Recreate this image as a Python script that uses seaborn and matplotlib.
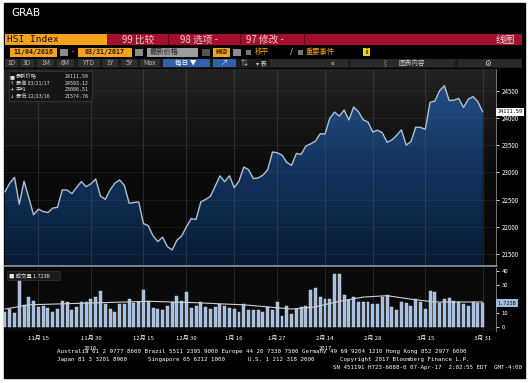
import numpy as np
import pandas as pd
import matplotlib.pyplot as plt
import matplotlib.transforms as mtransforms
from matplotlib.colors import LinearSegmentedColormap
from matplotlib.patches import Rectangle
import seaborn as sns

# --- data (HSI Index, daily, 11/04/2016 - 03/31/2017) ---
price = [22642, 22801, 22909, 22415, 22839, 22531, 22222, 22324, 22281, 22262,
         22344, 22357, 22678, 22676, 22609, 22723, 22830, 22737, 22790, 22878,
         22565, 22505, 22676, 22800, 22861, 22761, 22433, 22447, 22456, 22059,
         22020, 21833, 21729, 21809, 21636, 21575, 21754, 21831, 22001, 22150,
         22134, 22456, 22503, 22558, 22745, 22935, 22829, 22937, 22718, 22840,
         23098, 23050, 22885, 22898, 22949, 23049, 23374, 23361, 23318, 23185,
         23129, 23348, 23331, 23485, 23525, 23575, 23711, 23704, 23994, 24108,
         24034, 24146, 23963, 24202, 24115, 23966, 23926, 23741, 23776, 23728,
         23553, 23596, 23681, 23782, 23501, 23568, 23830, 23827, 23792, 24288,
         24310, 24502, 24593, 24321, 24327, 24358, 24193, 24345, 24392, 24301,
         24112]
volume = [10.7, 13.1, 10.2, 33.3, 16.0, 21.9, 19.0, 14.5, 15.5, 13.6,
          10.7, 13.0, 19.0, 18.0, 12.0, 14.3, 18.0, 18.0, 19.8, 21.4,
          25.5, 16.7, 13.0, 10.7, 16.7, 16.7, 20.2, 17.4, 17.9, 26.2,
          19.0, 13.6, 13.1, 12.4, 15.5, 17.9, 22.6, 19.0, 25.0, 13.6,
          15.5, 18.3, 14.3, 13.1, 14.8, 16.7, 15.0, 13.6, 13.1, 10.7,
          16.7, 12.0, 12.0, 12.0, 10.7, 14.3, 12.0, 18.3, 7.9, 15.5,
          9.5, 13.1, 14.3, 15.5, 26.2, 27.9, 21.9, 19.8, 20.2, 38.0,
          38.0, 23.1, 19.5, 21.4, 18.3, 17.9, 17.9, 16.7, 16.7, 21.4,
          23.3, 14.3, 12.6, 18.3, 17.4, 15.5, 20.2, 17.9, 13.1, 25.7,
          25.2, 17.4, 20.2, 20.7, 18.6, 17.9, 16.7, 15.5, 18.3, 17.4,
          17.2]
ma_idx = [0, 5, 10, 15, 20, 25, 30, 35, 40, 45, 50, 55, 60, 65, 70, 75, 80, 85, 90, 95, 100]
ma_vol = [13, 16, 16.5, 17, 17.5, 18, 18.5, 18, 17.5, 16.7, 16, 14.5, 13, 14.5, 18.5,
          21.5, 22.5, 20, 18, 18, 18]

tick_idx = [7, 18, 29, 38, 48, 57, 67, 77, 88, 100]
tick_labels = ['11月 15', '11月 30', '12月 15', '12月 30', '1月 16',
               '1月 27', '2月 14', '2月 28', '3月 15', '3月 31']
year_idx = [18, 67]
year_labels = ['2016', '2017']
price_ticks = [21500, 22000, 22500, 23000, 23500, 24000, 24500]
vol_ticks = [0, 10, 20, 30, 40]
vol_tick_labels = ['0', '10', '', '30', '40']  # 20 is hidden under the value box
last_price = '24111.59'
vol_text = '1.723B'
legend_rows = [('■', '最新价格', '24111.59'),
               ('↑', '最高 03/21/17', '24593.12'),
               ('+', '平均', '23086.51'),
               ('↓', '最低 12/23/16', '21574.76')]

df = pd.DataFrame({'day': np.arange(len(price)), 'price': price, 'volume': volume})

sns.set_style('dark')
plt.rcParams['font.family'] = ['Noto Sans CJK SC', 'DejaVu Sans']
CJK = ['Noto Sans CJK SC', 'DejaVu Sans']
MONO = ['DejaVu Sans Mono', 'Noto Sans CJK SC']

W, H = 530, 383
fig = plt.figure(figsize=(W / 100, H / 100), dpi=100, facecolor='white')

# black terminal background
bg = fig.add_axes([0, 0, 1, 1], zorder=0)
bg.set_xlim(0, W); bg.set_ylim(H, 0); bg.axis('off')
bg.add_patch(Rectangle((4, 3), 521, 375, color='black'))

xmin, xmax = -0.2, 102.8

# --- price panel ---
ax = fig.add_axes([4 / W, 1 - 265 / H, 492 / W, 196 / H], zorder=1)
ymin, ymax = 21298, 24900
grad = np.linspace(0, 1, 256).reshape(-1, 1)
ax.imshow(grad, extent=[xmin, xmax, ymin, ymax], origin='lower', aspect='auto',
          cmap=LinearSegmentedColormap.from_list('bgc', ['#080808', '#0c0c0c', '#222222']),
          zorder=0)
fill = ax.fill_between(df['day'], df['price'], ymin, color='none', lw=0)
im = ax.imshow(grad, extent=[xmin, xmax, ymin, ymax], origin='lower', aspect='auto',
               cmap=LinearSegmentedColormap.from_list('area', ['#081a33', '#12345e', '#24538a']),
               zorder=1)
im.set_clip_path(fill.get_paths()[0], transform=ax.transData)
for t in tick_idx:
    ax.axvline(t, color='#6a6a6a', lw=0.5, alpha=0.45, zorder=2)
for p in price_ticks:
    ax.axhline(p, color='#5a5a5a', lw=0.4, alpha=0.35, zorder=2)
sns.lineplot(data=df, x='day', y='price', ax=ax, color='#b0c0d2', lw=1.0, zorder=3)
ax.set_xlim(xmin, xmax); ax.set_ylim(ymin, ymax)
ax.yaxis.tick_right()
ax.set_yticks(price_ticks)
ax.set_yticklabels([str(p) for p in price_ticks])
ax.tick_params(axis='y', colors='white', labelsize=4.5, length=2.5, width=0.6, pad=1.5)
ax.tick_params(axis='x', bottom=False, labelbottom=False)
ax.set_xlabel(''); ax.set_ylabel('')
for s in ['top', 'left', 'bottom']:
    ax.spines[s].set_visible(False)
ax.spines['right'].set_color('#8a8a8a'); ax.spines['right'].set_linewidth(0.6)
ax.text(1.003, 24111.59, last_price, transform=mtransforms.blended_transform_factory(ax.transAxes, ax.transData),
        fontsize=3.8, color='black', va='center', ha='left', family=MONO,
        bbox=dict(boxstyle='square,pad=0.25', fc='white', ec='none'), clip_on=False, zorder=5)

# --- volume panel ---
axv = fig.add_axes([4 / W, 1 - 331 / H, 492 / W, 63 / H], zorder=1)
axv.set_facecolor('#0a0a0a')
for t in tick_idx:
    axv.axvline(t, color='#6a6a6a', lw=0.5, alpha=0.45, zorder=1)
sns.barplot(data=df, x='day', y='volume', ax=axv, color='#a3bddf', width=0.62,
            saturation=1, edgecolor='#d5e3f2', linewidth=0.3, zorder=2)
sns.lineplot(x=ma_idx, y=ma_vol, ax=axv, color='#cfcfcf', lw=0.8, zorder=3)
axv.set_xlim(xmin, xmax); axv.set_ylim(-2.6, 42.15)
axv.set_xticks(tick_idx)
axv.set_xticklabels(tick_labels)
axv.tick_params(axis='x', colors='white', labelsize=4.3, length=0, pad=3.5)
axv.yaxis.tick_right()
axv.set_yticks(vol_ticks)
axv.set_yticklabels(vol_tick_labels)
axv.tick_params(axis='y', colors='white', labelsize=4.3, length=2.5, width=0.6, pad=1.5)
axv.set_xlabel(''); axv.set_ylabel('')
for s in ['top', 'left', 'bottom']:
    axv.spines[s].set_visible(False)
axv.spines['right'].set_color('#8a8a8a'); axv.spines['right'].set_linewidth(0.6)
btr = mtransforms.blended_transform_factory(axv.transData, axv.transAxes)
for xi, lab in zip(year_idx, year_labels):
    axv.text(xi, -0.27, lab, transform=btr, ha='center', va='center', fontsize=4.3, color='white')
axv.text(1.003, volume[-1], vol_text, transform=mtransforms.blended_transform_factory(axv.transAxes, axv.transData),
         fontsize=3.8, color='#0b1a30', va='center', ha='left', family=MONO,
         bbox=dict(boxstyle='square,pad=0.3', fc='#a3bddf', ec='none'), clip_on=False, zorder=5)

# --- overlay: terminal UI, legend, footer ---
ov = fig.add_axes([0, 0, 1, 1], zorder=5)
ov.set_xlim(0, W); ov.set_ylim(H, 0); ov.axis('off'); ov.patch.set_alpha(0)


def box(x0, y0, x1, y1, fc, ec='none', lw=0):
    ov.add_patch(Rectangle((x0, y0), x1 - x0, y1 - y0, fc=fc, ec=ec, lw=lw))


def txt(x, y, s, size=5, color='white', ha='left', family=CJK, weight='normal'):
    ov.text(x, y, s, fontsize=size, color=color, ha=ha, va='center', family=family, weight=weight)


ORANGE = '#f7a21b'
txt(11, 13, 'GRAB', size=7.5, family=['DejaVu Sans'])

# row 1
box(5, 33.5, 107, 45, ORANGE)
txt(7, 39.5, 'HSI Index', size=6.8, color='#111111', family=MONO)
box(107, 33.5, 522, 45, '#a3102d')
for xs in [168, 240, 304]:
    ov.plot([xs, xs], [33.5, 45], color='#5c0718', lw=0.8)
txt(122, 39.5, '99 比较', size=7, color='#f3c8cf')
txt(180, 39.5, '98 选项 -', size=7, color='#f3c8cf')
txt(246, 39.5, '97 修改 -', size=7, color='#f3c8cf')
txt(515, 39.5, '线图', size=7, color='#f5dede', ha='right')

# row 2
box(10, 47.5, 57, 56.5, ORANGE)
txt(33.5, 52, '11/04/2016', size=4.8, color='#1a1a1a', ha='center', family=MONO, weight='bold')
box(60, 48.5, 68, 55.5, '#8c8c8c')
txt(73, 52, '-', size=5, ha='center')
box(78, 47.5, 132, 56.5, ORANGE)
txt(105, 52, '03/31/2017', size=4.8, color='#1a1a1a', ha='center', family=MONO, weight='bold')
box(135, 48.5, 143, 55.5, '#8c8c8c')
box(147, 47.5, 198, 56.5, '#9e9e9e')
txt(150, 52, '最新价格', size=5.2, color='#222222')
box(202, 48.5, 210, 55.5, '#555555')
box(213, 47.5, 230, 56.5, ORANGE)
txt(221.5, 52, 'HKD', size=4.8, color='#1a1a1a', ha='center', family=MONO, weight='bold')
box(233, 48.5, 241, 55.5, '#8c8c8c')
box(246, 49.5, 251, 54.5, '#777777')
txt(255, 52, '移平', size=5.2, color=ORANGE)
txt(290, 52, '/', size=5.5)
box(298, 49.5, 303, 54.5, '#777777')
txt(306, 52, '重要事件', size=5.2, color=ORANGE)
box(363, 48, 370, 56, '#f2d000')
txt(366.5, 52, 'i', size=5, color='black', ha='center', weight='bold')

# row 3
box(5, 58.5, 522, 67.5, '#1c1c1c')
for x0, x1, lab in [(5, 18, '1D'), (20, 34, '3D'), (37, 54, '1M'), (57, 74, '6M'),
                    (78, 100, 'YTD'), (103, 118, '1Y'), (121, 137, '5Y'), (140, 160, 'Max')]:
    box(x0, 59, x1, 67, '#2e2e2e')
    txt((x0 + x1) / 2, 63, lab, size=4.8, color='#b4b4b4', ha='center')
box(163, 59, 210, 67, '#2f62a8')
txt(186, 63, '每日 ▼', size=4.8, ha='center')
box(213, 59, 236, 67, '#2f62a8')
txt(224.5, 63, '↗', size=5, color='#dfe8f5', ha='center')
txt(244, 63, '⇅', size=5, color='#cfcfcf', ha='center')
txt(256, 63, '▾ 表', size=4.5, color='#cfcfcf')
box(270, 59, 348, 67, '#2a2a2a')
txt(333, 63, '«', size=6, color='#cfcfcf', ha='center')
box(351, 59, 455, 67, '#2a2a2a')
txt(385, 63, '⌇', size=5, color='#cfcfcf', ha='center')
txt(398, 63, '图表内容', size=4.8, color='#cfcfcf')
box(458, 59, 522, 67, '#2a2a2a')
txt(488, 63, '⚙', size=5.5, color='#cfcfcf', ha='center', family=['DejaVu Sans'])

# legend
box(9, 71, 92, 101, '#151515', ec='#3c3c3c', lw=0.5)
for i, (sym, lab, val) in enumerate(legend_rows):
    yy = 76.5 + i * 6.7
    txt(12, yy, sym, size=3.8, color='#e0e0e0', ha='center', family=['DejaVu Sans'])
    txt(16, yy, lab, size=3.8, color='#e0e0e0')
    txt(89, yy, val, size=3.6, color='#e0e0e0', ha='right', family=MONO)

# volume header
box(7, 271, 60, 280, '#1a1a1a', ec='#3c3c3c', lw=0.4)
txt(9, 275.5, '■ 成交量 ' + vol_text, size=3.9, color='#e6e6e6')

# separator between panels
ov.plot([4, 497], [266, 266], color='#9aa9ba', lw=1.1)

# footer
txt(57, 352, 'Australia 61 2 9777 8600 Brazil 5511 2395 9000 Europe 44 20 7330 7500 '
    'Germany 49 69 9204 1210 Hong Kong 852 2977 6000', size=4.2, family=MONO)
txt(57, 359.5, 'Japan 81 3 3201 8900', size=4.2, family=MONO)
txt(148, 359.5, 'Singapore 65 6212 1000', size=4.2, family=MONO)
txt(248, 359.5, 'U.S. 1 212 318 2000', size=4.2, family=MONO)
txt(340, 359.5, 'Copyright 2017 Bloomberg Finance L.P.', size=4.2, family=MONO)
txt(522, 367, 'SN 451191 H723-6088-0 07-Apr-17  2:02:55 EDT  GMT-4:00', size=4.2,
    family=MONO, ha='right')

fig.savefig('out.png', dpi=100, facecolor='white')
